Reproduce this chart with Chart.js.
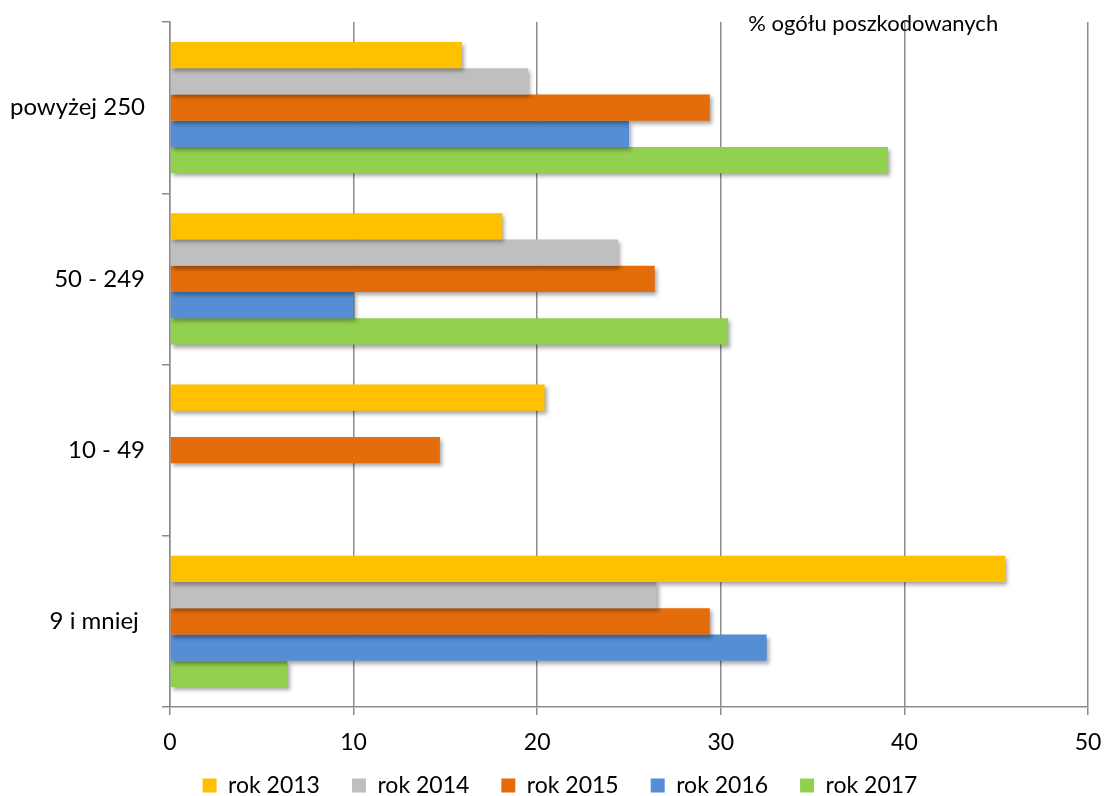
<!DOCTYPE html>
<html>
<head>
<meta charset="utf-8">
<script src="https://cdn.jsdelivr.net/npm/chart.js@4/dist/chart.umd.min.js"></script>
<style>
  html, body { margin: 0; padding: 0; background: #fff; }
  #wrap { width: 1106px; height: 796px; }
</style>
</head>
<body>
<div id="wrap"><canvas id="chart"></canvas></div>
<script>
// Categories (company size) and yearly shares
const categories = ['powyżej 250', '50 - 249', '10 - 49', '9 i mniej '];
const years = ['rok 2013', 'rok 2014', 'rok 2015', 'rok 2016', 'rok 2017'];
const colors = ['#FFC000', '#BFBFBF', '#E46C0A', '#558ED5', '#92D050'];

const v2013 = [15.9, 18.1, 20.4, 45.5];
const v2014 = [19.5, 24.4, null, 26.5];
const v2015 = [29.4, 26.4, 14.7, 29.4];
const v2016 = [25.0, 10.0, null, 32.5];
const v2017 = [39.1, 30.4, null, 6.4];

const xTicks = [0, 10, 20, 30, 40, 50];
const unitLabel = '% ogółu poszkodowanych';

const series = [v2013, v2014, v2015, v2016, v2017];
const FONT = 'Lato, "Open Sans", sans-serif';
const GRID = '#8c8c8c';

// soft drop shadow under the bars
const barShadow = {
    id: 'barShadow',
    beforeDatasetsDraw(chart) {
        const c = chart.ctx;
        c.save();
        c.shadowColor = 'rgba(0,0,0,0.35)';
        c.shadowBlur = 4;
        c.shadowOffsetX = 2;
        c.shadowOffsetY = 3;
    },
    afterDatasetsDraw(chart) {
        chart.ctx.restore();
    }
};

// let the x tick labels spill below the axis box, nudge the legend right
const layoutTweak = {
    id: 'layoutTweak',
    afterLayout(chart) {
        chart.scales.x.bottom = chart.height;
        const lg = chart.legend;
        lg.left += 16;
        lg.right += 16;
    }
};

// unit caption near the top right of the plot
const unitCaption = {
    id: 'unitCaption',
    afterDraw(chart) {
        const c = chart.ctx;
        const x = chart.scales.x;
        c.save();
        c.font = '22px ' + FONT;
        c.fillStyle = '#000';
        c.textAlign = 'center';
        c.textBaseline = 'middle';
        c.fillText(unitLabel, x.getPixelForValue(38.3), chart.chartArea.top + 2);
        c.restore();
    }
};

new Chart(document.getElementById('chart'), {
    type: 'bar',
    data: {
        labels: categories,
        datasets: years.map((y, i) => ({
            label: y,
            data: series[i],
            backgroundColor: colors[i],
            borderWidth: 0,
            categoryPercentage: 0.767,
            barPercentage: 1.0
        }))
    },
    options: {
        indexAxis: 'y',
        responsive: true,
        maintainAspectRatio: false,
        animation: false,
        layout: { padding: { top: 22, right: 18, left: 0, bottom: -11 } },
        plugins: {
            legend: {
                position: 'bottom',
                labels: {
                    boxWidth: 14,
                    boxHeight: 14,
                    padding: 32,
                    color: '#000',
                    font: { family: FONT, size: 23 }
                }
            },
            tooltip: { enabled: false }
        },
        scales: {
            x: {
                min: 0,
                max: 50,
                afterBuildTicks: (s) => { s.ticks = xTicks.map(v => ({ value: v })); },
                afterFit: (s) => { s.height = 35; s.paddingLeft = 0; s.paddingRight = 0; },
                grid: { color: GRID, lineWidth: 1.5, tickLength: 8, drawTicks: true },
                border: { color: GRID, width: 1.5 },
                ticks: { color: '#000', padding: 14, font: { family: FONT, size: 23 } }
            },
            y: {
                afterFit: (s) => { s.width = 170; s.paddingTop = 0; s.paddingBottom = 0; },
                grid: { drawOnChartArea: false, color: GRID, lineWidth: 1.5, tickLength: 8 },
                border: { color: GRID, width: 1.5 },
                ticks: { color: '#000', padding: 17, font: { family: FONT, size: 24 } }
            }
        }
    },
    plugins: [barShadow, layoutTweak, unitCaption]
});
</script>
</body>
</html>
